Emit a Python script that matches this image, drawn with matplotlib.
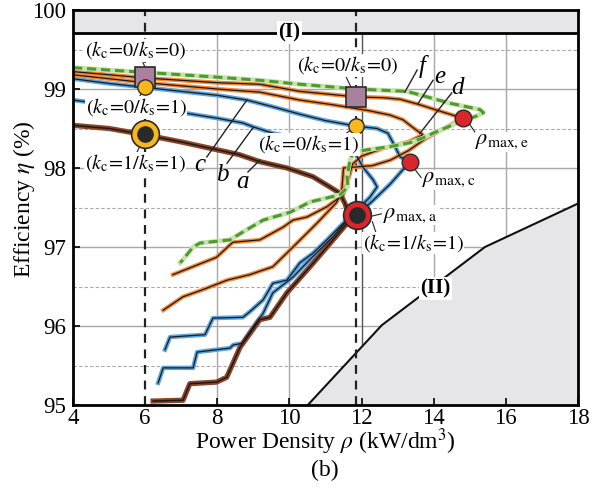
import numpy as np
import matplotlib.pyplot as plt

plt.rcParams.update({
    "font.family": "Liberation Serif",
    "mathtext.fontset": "stix",
    "font.size": 13,
})

# ---- data (rho in kW/dm^3, eta in %) : top branch then lower branch ----
a_rho = [4, 5, 6, 7, 8, 8.6, 9.18, 9.93, 10.65, 11.12, 11.4, 11.54, 11.6, 11.87,
         11.6, 11.04, 10.57, 9.93, 9.46, 9.18, 8.63, 8.26, 7.98, 7.24, 7.05, 6.22]
a_eta = [98.54, 98.5, 98.42, 98.33, 98.23, 98.17, 98.08, 98.0, 97.89, 97.76, 97.68, 97.55, 97.47, 97.41,
         97.3, 97.0, 96.75, 96.42, 96.11, 96.08, 95.73, 95.35, 95.29, 95.27, 95.06, 95.05]

b_rho = [4, 5, 6, 7.05, 8, 8.71, 9.0, 9.54, 10.5, 11.3, 11.82, 12.04, 12.32, 12.43,
         12.23, 11.87, 11.49, 11.04, 10.65, 10.29, 9.93, 9.54, 9.27, 8.9, 8.71, 7.88, 7.66, 6.69, 6.55]
b_eta = [98.86, 98.8, 98.75, 98.7, 98.63, 98.57, 98.52, 98.44, 98.35, 98.25, 98.19, 98.01, 97.85, 97.76,
         97.63, 97.47, 97.3, 97.09, 96.92, 96.8, 96.58, 96.54, 96.33, 96.18, 96.11, 96.1, 95.89, 95.86, 95.70]

c_rho = [4, 5, 6, 7, 8, 8.82, 9.5, 10.3, 11.0, 11.85, 12.43, 12.73, 12.93, 13.07, 13.34,
         12.8, 12.3, 11.9, 11.68, 11.21, 10.65, 10.1, 9.54, 9.27, 9.0, 8.69, 8.44, 8.35, 7.44, 7.33, 6.5, 6.36]
c_eta = [99.13, 99.07, 99.02, 98.97, 98.92, 98.86, 98.78, 98.68, 98.6, 98.53, 98.5, 98.44, 98.27, 98.14, 98.08,
         97.8, 97.58, 97.42, 97.38, 97.13, 96.88, 96.62, 96.42, 96.16, 95.99, 95.78, 95.76, 95.72, 95.67, 95.47, 95.47, 95.28]

d_rho = [4, 5, 6, 7, 8, 9.18, 10.29, 11.21, 12.15, 12.79, 13.15, 13.43, 13.7,
         13.3, 12.6, 12.0, 11.75, 11.6, 11.49, 11.04, 10.49, 10.1, 9.82, 9.18, 8.43, 7.98, 6.77]
d_eta = [99.18, 99.13, 99.08, 99.04, 99.0, 98.96, 98.86, 98.8, 98.73, 98.67, 98.61, 98.51, 98.42,
         98.33, 98.25, 98.15, 98.05, 97.8, 97.66, 97.51, 97.38, 97.34, 97.25, 97.09, 97.06, 96.87, 96.65]

e_rho = [4, 5, 6, 7, 8, 9.18, 10.29, 11.85, 12.6, 13.07, 13.62, 14.17, 14.81,
         14.2, 13.8, 13.3, 12.8, 12.3, 11.5, 11.45, 11.3, 10.76, 10.1, 9.54, 8.9, 8.27, 7.6, 7.05, 6.5]
e_eta = [99.22, 99.18, 99.14, 99.11, 99.08, 99.06, 98.97, 98.9, 98.89, 98.87, 98.8, 98.72, 98.63,
         98.48, 98.38, 98.22, 98.1, 98.03, 98.0, 97.7, 97.56, 97.3, 97.0, 96.75, 96.65, 96.58, 96.46, 96.37, 96.2]

f_rho = [4, 5, 6, 7, 8, 9.18, 10.29, 11.85, 13.26, 14.45, 15.28, 15.38, 15.2,
         14.65, 13.98, 13.7, 13.34, 12.79, 12.15, 11.77, 11.68, 11.6, 11.62, 11.4, 10.57, 10.02,
         9.27, 8.71, 8.35, 7.52, 7.33, 7.05, 6.97]
f_eta = [99.27, 99.24, 99.21, 99.18, 99.15, 99.11, 99.06, 99.0, 98.97, 98.82, 98.74, 98.7, 98.66,
         98.57, 98.44, 98.38, 98.32, 98.27, 98.23, 98.2, 98.1, 97.89, 97.76, 97.66, 97.57, 97.44,
         97.34, 97.19, 97.09, 97.05, 97.0, 96.84, 96.8]

# boundary (I) and (II)
lim1_eta = 99.71
lim2_rho = [10.51, 12.56, 15.42, 18.0]
lim2_eta = [95.0, 96.01, 97.0, 97.55]

# marked designs
sq_rho, sq_eta = [6, 11.85], [99.15, 98.9]           # kc=0/ks=0
yc_rho, yc_eta = [6, 11.85], [99.02, 98.53]          # kc=0/ks=1
k11_rho, k11_eta = 6, 98.43                           # kc=1/ks=1
rmax_rho = [11.87, 13.34, 14.81]
rmax_eta = [97.41, 98.08, 98.63]

fig = plt.figure(figsize=(6.04, 4.91), dpi=100)
ax = fig.add_axes([73/604, 86/491, 505/604, 395/491])
ax.set_xlim(4, 18)
ax.set_ylim(95, 100)

# grid
for yv in [96, 97, 98, 99]:
    ax.axhline(yv, color="#a8a8a8", lw=1.0, zorder=0)
for yv in [95.5, 96.5, 97.5, 98.5, 99.5]:
    ax.axhline(yv, color="#a8a8a8", lw=0.8, ls=(0, (3, 2)), zorder=0)
for xv in [8, 10, 14, 16]:
    ax.axvline(xv, color="#a8a8a8", lw=1.0, zorder=0)
ax.axvline(12, color="#555555", lw=1.0, zorder=0)

# regions
ax.fill_between([4, 18], lim1_eta, 100, color="#e6e6e8", zorder=1)
ax.axhline(lim1_eta, color="black", lw=2, zorder=2)
ax.fill_between(lim2_rho, 95, lim2_eta, color="#e6e6e8", zorder=1)
ax.plot(lim2_rho, lim2_eta, color="#111111", lw=1.5, zorder=2)
ax.text(10.0, lim1_eta, "(I)", fontweight="bold", ha="center", va="center", fontsize=15,
        bbox=dict(fc="white", ec="none", pad=1), zorder=3)
ax.text(14.05, 96.48, "(II)", fontweight="bold", ha="center", va="center", fontsize=15,
        bbox=dict(fc="white", ec="none", pad=1), zorder=3)

# vertical dashed lines at selected power densities
for xv in [6, 11.85]:
    ax.axvline(xv, color="#222222", lw=1.6, ls=(0, (4, 3)), zorder=2)

# curves: coloured halo with thin black core
def halo(x, y, col, w=3.2, core=0.9):
    ax.plot(x, y, color=col, lw=w, solid_joinstyle="round", zorder=4)
    ax.plot(x, y, color="#1a1a1a", lw=core, zorder=4.1)

halo(c_rho, c_eta, "#5aa4e0")
halo(b_rho, b_eta, "#5aa4e0")
halo(d_rho, d_eta, "#f2883a", w=3.0)
halo(e_rho, e_eta, "#f2883a", w=3.0)
halo(a_rho, a_eta, "#8e4526", w=3.8, core=1.1)
ax.plot(f_rho, f_eta, color="#c6e2ad", lw=3.4, zorder=4.2)
ax.plot(f_rho, f_eta, color="#4f9a2c", lw=2.2, ls=(0, (3, 1.6)), zorder=4.3)

# markers
ax.plot(sq_rho, sq_eta, "s", ms=14, mfc="#a9819f", mec="#2a2a2a", mew=1.2, zorder=6)
ax.plot(yc_rho, yc_eta, "o", ms=11, mfc="#f8b81c", mec="#2a2a2a", mew=1.0, zorder=6)
ax.plot(k11_rho, k11_eta, "o", ms=20, mfc="#f8b81c", mec="#2a2a2a", mew=1.2, zorder=6)
ax.plot(k11_rho, k11_eta, "o", ms=11, mfc="#2a2a2a", mec="#2a2a2a", zorder=6.1)
ax.plot(rmax_rho[0], rmax_eta[0], "o", ms=20, mfc="#d8262c", mec="#2a2a2a", mew=1.2, zorder=6)
ax.plot(rmax_rho[0], rmax_eta[0], "o", ms=11, mfc="#2a2a2a", mec="#2a2a2a", zorder=6.1)
ax.plot(rmax_rho[1:], rmax_eta[1:], "o", ms=12, mfc="#d8262c", mec="#2a2a2a", mew=1.0, zorder=6)

# labels
box = dict(fc="white", ec="none", pad=0.3)
lbl = dict(ha="center", va="center", fontsize=14.5, bbox=box, zorder=7)
ax.text(5.72, 99.49, r"$(k_{\rm c}\!=\!0/k_{\rm s}\!=\!0)$", **lbl)
ax.text(5.75, 98.77, r"$(k_{\rm c}\!=\!0/k_{\rm s}\!=\!1)$", **lbl)
ax.text(5.72, 98.06, r"$(k_{\rm c}\!=\!1/k_{\rm s}\!=\!1)$", **lbl)
ax.text(11.6, 99.30, r"$(k_{\rm c}\!=\!0/k_{\rm s}\!=\!0)$", **lbl)
ax.text(10.54, 98.30, r"$(k_{\rm c}\!=\!0/k_{\rm s}\!=\!1)$", **lbl)
ax.text(13.43, 97.05, r"$(k_{\rm c}\!=\!1/k_{\rm s}\!=\!1)$", **lbl)

rl = dict(ha="left", va="center", fontsize=16, bbox=box, zorder=7)
ax.text(12.6, 97.40, r"$\rho_{\rm max,a}$", **rl)
ax.text(13.68, 97.85, r"$\rho_{\rm max,c}$", **rl)
ax.text(15.15, 98.33, r"$\rho_{\rm max,e}$", **rl)

# leader lines
lead = dict(color="#222222", lw=0.8, zorder=5)
for (x0, y0, x1, y1) in [(5.88, 99.40, 6.0, 99.27), (5.75, 98.85, 5.95, 98.97),
                         (5.72, 98.15, 5.88, 98.30), (11.5, 99.22, 11.7, 99.03),
                         (11.45, 98.40, 11.7, 98.48), (12.1, 97.37, 12.55, 97.42),
                         (12.3, 97.32, 12.4, 97.18), (13.5, 97.97, 13.65, 97.88),
                         (15.0, 98.55, 15.15, 98.45)]:
    ax.plot([x0, x1], [y0, y1], **lead)

# curve letters
let = dict(ha="center", va="center", fontsize=18, style="italic", zorder=7)
ax.text(8.69, 97.82, "a", **let)
ax.text(8.13, 97.91, "b", **let)
ax.text(7.52, 98.04, "c", **let)
ax.text(14.67, 99.01, "d", **let)
ax.text(14.17, 99.15, "e", **let)
ax.text(13.68, 99.28, "f", **let)
for (x0, y0, x1, y1) in [(8.85, 97.95, 9.18, 98.10), (8.27, 98.06, 8.99, 98.51),
                         (7.71, 98.14, 8.82, 98.86), (14.5, 98.95, 13.62, 98.44),
                         (13.98, 99.11, 13.57, 98.82), (13.54, 99.24, 13.2, 98.96)]:
    ax.plot([x0, x1], [y0, y1], color="#222222", lw=1.0, zorder=5)

# axes styling
ax.set_xticks(np.arange(4, 19, 2))
ax.set_yticks(np.arange(95, 101, 1))
ax.tick_params(direction="in", length=5, width=1.2, labelsize=16.5, pad=5)
ax.tick_params(axis="x", pad=2)
for s in ax.spines.values():
    s.set_linewidth(2)
    s.set_zorder(8)
fig.text(24/604, 1 - 199/491, r"Efficiency $\eta$ (%)", rotation=90,
         ha="center", va="center", fontsize=17)
fig.text(325/604, 1 - 442/491, r"Power Density $\rho$ (kW/dm$^3$)",
         ha="center", va="center", fontsize=17)
fig.text(325/604, 1 - 470/491, "(b)", ha="center", va="center", fontsize=17)

fig.savefig("out.png", dpi=100)
